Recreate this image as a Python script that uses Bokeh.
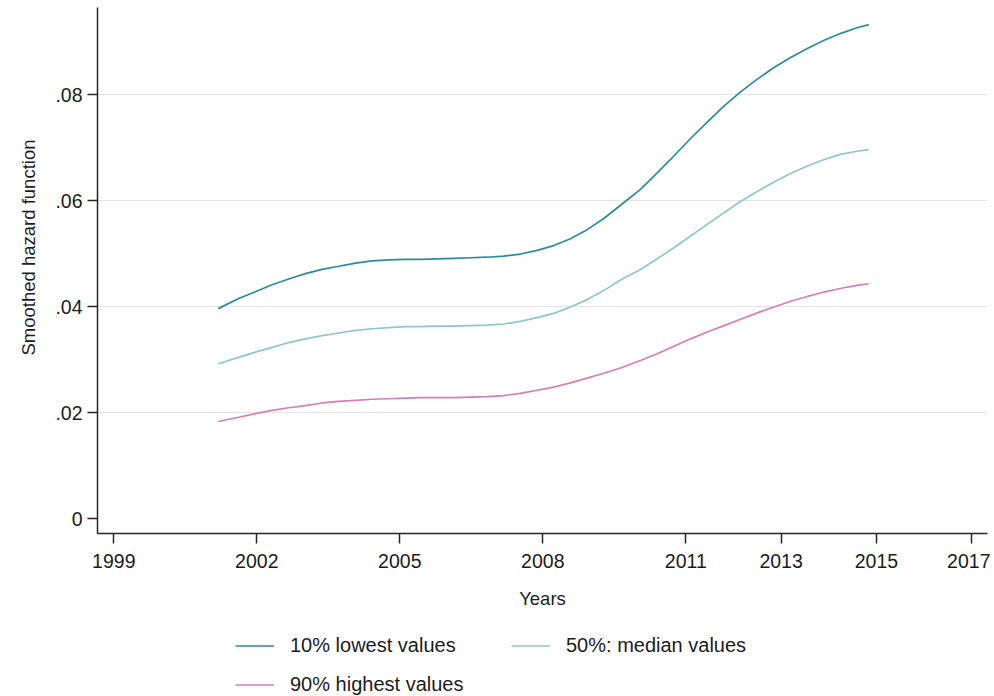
from bokeh.plotting import figure
from bokeh.layouts import column
from bokeh.models import Range1d, FixedTicker, Legend, LegendItem, Title
from bokeh.embed import file_html
from bokeh.resources import INLINE

# ---- data ----
years = [2001.19, 2001.62, 2001.97, 2002.32, 2002.67, 2003.02, 2003.37, 2003.72,
         2004.07, 2004.42, 2004.77, 2005.12, 2005.43, 2005.78, 2006.13, 2006.48,
         2006.83, 2007.18, 2007.53, 2007.88, 2008.23, 2008.58, 2008.93, 2009.28,
         2009.63, 2010.05, 2010.40, 2010.75, 2011.10, 2011.45, 2011.80, 2012.15,
         2012.50, 2012.85, 2013.20, 2013.55, 2013.89, 2014.24, 2014.59, 2014.84]
lowest10 = [0.0396, 0.0415, 0.0428, 0.0441, 0.0452, 0.0462, 0.0470, 0.0476,
            0.0482, 0.0486, 0.0488, 0.0489, 0.0489, 0.0490, 0.0491, 0.0492,
            0.0493, 0.0495, 0.0499, 0.0506, 0.0515, 0.0528, 0.0545, 0.0566,
            0.0591, 0.0621, 0.0652, 0.0684, 0.0717, 0.0748, 0.0778, 0.0805,
            0.0829, 0.0851, 0.0870, 0.0887, 0.0902, 0.0915, 0.0926, 0.0932]
median50 = [0.0292, 0.0304, 0.0314, 0.0323, 0.0332, 0.0339, 0.0345, 0.0350,
            0.0355, 0.0358, 0.0360, 0.0362, 0.0362, 0.0363, 0.0363, 0.0364,
            0.0365, 0.0367, 0.0372, 0.0379, 0.0387, 0.0399, 0.0413, 0.0430,
            0.0450, 0.0470, 0.0490, 0.0511, 0.0533, 0.0555, 0.0577, 0.0598,
            0.0617, 0.0635, 0.0651, 0.0665, 0.0677, 0.0687, 0.0693, 0.0696]
highest90 = [0.0183, 0.0191, 0.0198, 0.0204, 0.0209, 0.0213, 0.0218, 0.0221,
             0.0223, 0.0225, 0.0226, 0.0227, 0.0228, 0.0228, 0.0228, 0.0229,
             0.0230, 0.0232, 0.0236, 0.0242, 0.0248, 0.0256, 0.0265, 0.0274,
             0.0284, 0.0298, 0.0311, 0.0325, 0.0339, 0.0352, 0.0364, 0.0376,
             0.0388, 0.0399, 0.0410, 0.0419, 0.0427, 0.0434, 0.0440, 0.0443]
series = [lowest10, median50, highest90]
series_names = ["10% lowest values", "50%: median values", "90% highest values"]
x_ticks = [1999, 2002, 2005, 2008, 2011, 2013, 2015, 2017]
y_ticks = [0, 0.02, 0.04, 0.06, 0.08]
y_tick_labels = ["0", ".02", ".04", ".06", ".08"]
y_grid_ticks = [0.02, 0.04, 0.06, 0.08]
x_title = "Years"
y_title = "Smoothed hazard function"

colors = ["#2A8BA0", "#8CC6D5", "#D77DBA"]
FONT = "Liberation Sans"
TXT = "#1c1c1c"
AX = "#262626"

p = figure(width=990, height=618, output_backend="svg", toolbar_location=None,
           x_range=Range1d(1998.658, 2017.33), y_range=Range1d(-0.00283, 0.09642),
           min_border_left=97, min_border_right=3, min_border_top=7,
           min_border_bottom=85)
p.outline_line_color = None
p.background_fill_color = "white"
p.border_fill_color = "white"

for ys, c in zip(series, colors):
    p.line(years, ys, line_color=c, line_width=1.7)

# axes
p.xaxis.ticker = FixedTicker(ticks=x_ticks)
p.yaxis.ticker = FixedTicker(ticks=y_ticks)
p.yaxis.major_label_overrides = {t: l for t, l in zip(y_ticks, y_tick_labels)}
for ax in (p.xaxis[0], p.yaxis[0]):
    ax.axis_line_color = AX
    ax.axis_line_width = 1.5
    ax.major_tick_line_color = AX
    ax.major_tick_line_width = 1.5
    ax.major_tick_out = 10
    ax.major_tick_in = 0
    ax.minor_tick_out = 0
    ax.minor_tick_in = 0
    ax.major_label_text_font = FONT
    ax.major_label_text_font_size = "19.5px"
    ax.major_label_text_color = TXT
p.yaxis.major_label_standoff = 5
p.xaxis.major_label_standoff = 10
p.xaxis.axis_label = x_title
p.xaxis.axis_label_text_font = FONT
p.xaxis.axis_label_text_font_size = "18.5px"
p.xaxis.axis_label_text_font_style = "normal"
p.xaxis.axis_label_text_color = TXT
p.xaxis.axis_label_standoff = 17

# grid
p.xgrid.visible = False
p.ygrid.ticker = FixedTicker(ticks=y_grid_ticks)
p.ygrid.grid_line_color = "#e4e4e4"
p.ygrid.grid_line_width = 1.2

# y title as a side title (sits a bit above the frame middle)
ytitle = Title(text=y_title, align="left", offset=178, standoff=28,
               text_font=FONT, text_font_size="18.5px", text_font_style="normal",
               text_color=TXT)
p.add_layout(ytitle, "left")

# legend in its own strip below the chart; the series are drawn there out of view
pl = figure(width=990, height=78, output_backend="svg", toolbar_location=None,
            x_range=Range1d(0, 1), y_range=Range1d(0, 1),
            x_axis_type=None, y_axis_type=None,
            min_border_left=0, min_border_right=0, min_border_top=0, min_border_bottom=0)
pl.outline_line_color = None
pl.xgrid.visible = False
pl.ygrid.visible = False
pl.background_fill_color = "white"
pl.border_fill_color = "white"
ghosts = [pl.line(years, ys, line_color=c, line_width=1.7) for ys, c in zip(series, colors)]
legend = Legend(items=[LegendItem(label=n, renderers=[r]) for n, r in zip(series_names, ghosts)],
                location=(138, 0), orientation="horizontal", ncols=2,
                glyph_width=39, glyph_height=21, label_height=21, label_width=205,
                label_standoff=16, spacing=16, padding=0, margin=0,
                border_line_color=None, background_fill_alpha=0,
                label_text_font=FONT, label_text_font_size="20px",
                label_text_color=TXT)
pl.add_layout(legend)

open("out.html", "w").write(file_html(column(p, pl, spacing=0), INLINE))
